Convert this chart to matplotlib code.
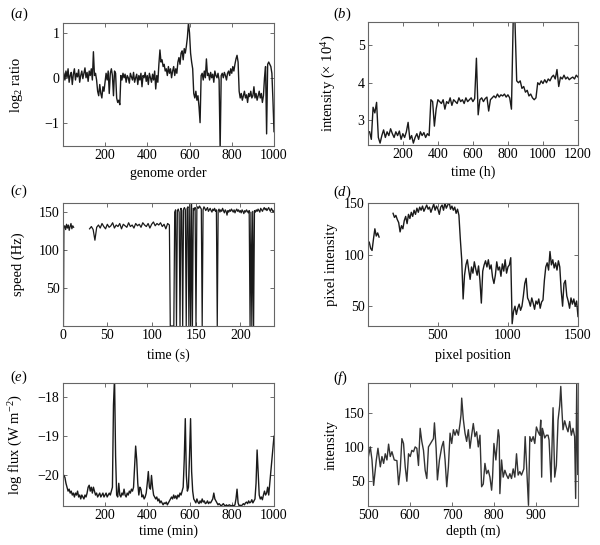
"""Six example time series panels (a)-(f), redrawn from a figure."""

from __future__ import annotations

import matplotlib

matplotlib.use("Agg")
import matplotlib.pyplot as plt
import numpy as np

# (a) genome order vs log2 ratio, sampled every 5
A_STEP = 5
A_RATIO = [
    0.10, -0.05, 0.15, 0.0, 0.2, -0.1, 0.05, 0.12, -0.15, 0.08, 0.2, -0.05, 0.1, 0.02, 0.18, -0.1,
    0.05, 0.15, -0.02, 0.1, 0.22, 0.0, 0.12, -0.08, 0.15, 0.05, 0.2, -0.05, 0.58, 0.05, 0.1, -0.05,
    -0.3, -0.4, -0.15, -0.35, -0.45, -0.2, -0.3, -0.1,
    0.1, -0.05, 0.15, -0.35, 0.1, 0.2, 0.05, -0.4, 0.15, 0.1,
    -0.45, -0.55, -0.5, -0.6,
    0.05, -0.05, 0.1, 0.0, 0.08, -0.1, 0.05, 0.0, -0.12, 0.1, 0.02, -0.05, 0.12, -0.1, 0.0, 0.08,
    -0.15, 0.05, -0.05, 0.1, -0.2, 0.05, 0.0, 0.12, -0.08, 0.05, -0.15, 0.1, 0.0, -0.1, 0.08, -0.05,
    0.15, -0.25, 0.05, -0.1,
    0.3, 0.62, 0.35, 0.4, 0.25, 0.3,
    0.15, 0.2, 0.05, 0.25, 0.1, 0.2, 0.0, 0.15, 0.25, 0.05, 0.2, 0.1,
    0.35, 0.45, 0.3, 0.55, 0.6, 0.4, 0.65, 0.55, 0.7,
    0.9, 1.22, 1.0,
    0.55, 0.35, 0.2,
    -0.35, -0.45, -0.3, -0.5, -0.4, -0.65, -1.0,
    0.05, 0.1, -0.05, 0.15, 0.0, 0.42, 0.05, 0.1, -0.05, 0.12, 0.0, 0.08, -0.1, 0.15, 0.05, 0.0,
    0.1, -0.05,
    -1.6,
    0.05, 0.1, 0.0, 0.12, 0.05, -0.05, 0.1, 0.15, 0.05, 0.2, 0.1, 0.25, 0.15, 0.3, 0.42, 0.5, 0.35,
    -0.3, -0.45, -0.35, -0.5, -0.4, -0.3, -0.45, -0.38, -0.55, -0.35, -0.42, -0.3, -0.45, -0.4,
    -0.2, -0.45, -0.35, -0.5, -0.4, -0.3, -0.45, -0.35, -0.55, -0.4,
    0.0, 0.25, -1.25, 0.3, 0.35, 0.3, 0.25, 0.1, -0.5, -1.2,
]

# (b) time (h) vs intensity (x 10^4), sampled every 10 h
B_STEP = 10
B_INTENSITY = [
    2.7, 2.5, 3.35, 3.2, 3.48,
    2.55, 2.4, 2.6, 2.75, 2.55, 2.7, 2.6, 2.78, 2.65, 2.55, 2.7, 2.6, 2.72, 2.5, 2.65, 2.55, 2.7,
    2.95, 2.5, 2.6, 2.4, 2.55, 2.65, 2.5, 2.7, 2.6, 2.68, 2.55, 2.65, 2.6,
    3.55, 3.5, 2.85, 3.3, 3.55,
    3.5, 3.45, 3.55, 3.3, 3.5, 3.45, 3.6, 3.4, 3.55, 3.5, 3.45, 3.6, 3.5, 3.55, 3.45, 3.6, 3.5,
    3.55, 3.6, 3.5, 3.58, 4.65,
    3.15, 3.55, 3.6, 3.5, 3.58, 3.62, 3.25, 3.55, 3.6, 3.65, 3.6, 3.7, 3.62, 3.68, 3.65, 3.7,
    3.62, 3.68, 3.6,
    3.3, 5.65, 5.65, 4.05,
    4.0, 4.05, 3.85, 3.9, 3.75, 3.8, 3.65, 3.7, 3.6, 3.55, 3.6,
    4.0, 3.95, 4.05, 3.98, 4.08, 4.0, 4.1, 4.05, 4.15, 4.2, 4.1, 4.35, 3.9, 4.15, 4.1, 4.2, 4.1,
    4.15, 4.08, 4.12, 4.15, 4.1, 4.2, 4.15,
]

# (c) time (s) vs speed (Hz); NaN marks the gap with no reading
C_TIME = np.r_[[0.5], np.arange(1, 13), [20], np.arange(30, 121, 2), [121, 125], np.arange(126, 239)]
C_SPEED = [
    0, 130, 132, 127, 134, 129, 133, 126, 131, 135, 128, 132, 130,
    np.nan,
    128, 131, 127, 113, 130, 133, 129, 135, 131, 128, 134, 130, 132, 136, 129, 133, 131, 135, 128,
    134, 132, 130, 136, 131, 133, 129, 135, 132, 134, 130, 136, 133, 131, 135, 129, 134, 137, 132,
    135, 133, 136, 131, 134, 128, 135, 133,
    0, 0,
    150, 153, 0, 152, 154, 150, 0, 155, 152, 0,
    154, 156, 153, 0, 155, 157, 0, 160, 0, 163,
    0, 155, 153, 156, 0, 154, 157, 155, 158, 156,
    154, 0, 153, 157, 155, 152, 154, 156, 151, 153,
    155, 152, 150, 154, 152, 155, 151, 153, 0, 152,
    154, 150, 153, 151, 155, 152, 149, 153, 151, 146,
    152, 150, 153, 151, 154, 152, 150, 153, 149, 152,
    154, 151, 153, 150, 152, 149, 153, 151, 148, 152,
    150, 153, 151, 149, 152, 0, 150, 0, 151, 0,
    152, 150, 153, 151, 154, 152, 150, 155, 153, 151,
    154, 156, 153, 155, 152, 154, 156, 153, 151, 155,
    153, 150, 152,
]

# (d) pixel position vs pixel intensity, sampled every 10; NaN = gap
D_STEP = 10
D_INTENSITY = [
    112, 106, 104, 115, 125, 118, 121, 117,
    np.nan, np.nan, np.nan, np.nan, np.nan, np.nan, np.nan, np.nan, np.nan,
    140, 136, 138, 134, 131, 122, 128, 125,
    133, 137, 130, 139, 135, 141, 137, 143, 139, 145,
    141, 146, 143, 147, 142, 145, 148, 144, 146, 141, 145, 149, 143, 147, 144, 139, 146, 148, 143,
    150, 145, 148, 151, 144, 147,
    143, 146, 140, 144, 138, 115, 95, 57,
    80, 90, 95, 85, 76, 88, 82, 93, 86, 80, 89, 75, 53, 84, 90, 94, 88, 95, 86, 90, 78, 72, 80,
    93, 85, 88, 79, 91, 84, 95, 82, 88, 90, 97,
    33, 45, 50, 42, 48, 52, 46, 50,
    60, 72, 77, 58,
    55, 50, 58, 53, 47, 55, 52, 57, 48, 54, 56,
    75, 88, 92, 85, 103, 90, 95, 87, 92, 85, 94, 88,
    65, 50, 72, 75, 60, 55, 48, 58, 52, 57, 50, 55, 40,
]

# (e) time (min) vs log flux (W m^-2), sampled every 5 min
E_STEP = 5
E_FLUX = [
    -20.0, -20.05, -20.2, -20.3, -20.4, -20.35, -20.45, -20.4, -20.5, -20.45, -20.55, -20.45,
    -20.5, -20.4, -20.55, -20.5, -20.6, -20.5, -20.55, -20.6,
    -20.5, -20.55, -20.45, -20.3, -20.25, -20.4, -20.3, -20.45, -20.3, -20.4,
    -20.5, -20.45, -20.55, -20.5, -20.45, -20.55, -20.5, -20.45, -20.55, -20.5, -20.45, -20.55,
    -20.5, -20.45, -20.5, -20.4,
    -20.3, -18.2, -17.5, -19.5, -20.5,
    -20.55, -20.2, -20.5, -20.55, -20.45, -20.5, -20.35, -20.5, -20.55, -20.45, -20.5, -20.4,
    -20.45, -20.35, -20.4,
    -20.3, -19.8, -19.25, -19.6, -20.2,
    -20.5, -20.3, -20.35, -20.55, -20.5, -20.6, -20.55, -20.45,
    -20.2, -19.9, -20.3, -20.35, -20.0, -20.3, -20.5,
    -20.55, -20.6, -20.55, -20.65, -20.6, -20.7, -20.65, -20.7, -20.75, -20.7, -20.72, -20.68,
    -20.75, -20.7, -20.65, -20.6, -20.55, -20.6, -20.5, -20.58, -20.52, -20.6, -20.5, -20.55,
    -20.45, -20.5, -20.4, -20.3,
    -19.6, -18.55, -20.0, -20.4, -20.3, -19.5, -18.55, -19.9, -20.4,
    -20.6, -20.65, -20.7, -20.6, -20.68, -20.72, -20.65, -20.7, -20.6, -20.68, -20.65, -20.72,
    -20.7, -20.65, -20.72, -20.68, -20.7, -20.65,
    -20.6, -20.45, -20.6, -20.65,
    -20.7, -20.75, -20.72, -20.75, -20.78, -20.75, -20.72, -20.76, -20.78, -20.75, -20.78,
    -20.76, -20.75, -20.78, -20.77, -20.76, -20.78, -20.75,
    -20.6, -20.35, -20.7,
    -20.78, -20.76, -20.78, -20.75, -20.72, -20.75, -20.7, -20.68, -20.72, -20.65, -20.7,
    -20.68, -20.62, -20.7, -20.65, -20.6,
    -20.2, -19.35, -19.9, -20.5,
    -20.6, -20.55, -20.62, -20.5, -20.4, -20.5, -20.45, -20.3,
    -20.5, -20.2, -19.9, -19.6, -19.3, -19.0,
]

# (f) depth (m) vs intensity
F_DEPTH = [
    500.0, 505.5, 509.5, 513.4, 519.8, 523.7, 529.3, 533.2, 537.2, 541.1, 545.1, 549.0, 553.0,
    557.0, 562.5, 568.8, 572.8, 576.7, 580.7, 584.6, 588.6, 592.5, 596.5, 600.5, 604.4, 608.4,
    612.3, 616.3, 620.2, 624.2, 628.1, 632.1, 636.1, 640.0, 644.0, 651.9, 655.8, 658.2, 662.2,
    665.3, 670.1, 675.6, 679.6, 683.5, 687.5, 691.4, 695.4, 699.3, 703.3, 707.2, 711.2, 715.2,
    719.1, 721.5, 723.1, 727.0, 731.0, 734.9, 738.9, 742.8, 746.8, 750.7, 754.7, 758.7, 762.6,
    766.6, 770.5, 774.5, 778.4, 782.4, 786.3, 790.3, 794.3, 796.6, 799.8, 804.5, 810.1, 812.4,
    814.0, 818.0, 821.9, 825.9, 829.8, 833.8, 837.8, 841.7, 845.7, 849.6, 853.6, 857.5, 861.5,
    865.4, 871.0, 874.2, 882.1, 885.3, 889.2, 893.2, 897.1, 901.0, 905.0, 909.0, 911.3, 913.5,
    915.3, 920.8, 924.8, 928.7, 931.1, 935.8, 940.6, 944.5, 948.5, 952.5, 956.4, 959.0, 962.0,
    964.3, 968.3, 972.3, 976.2, 980.2, 984.1, 988.1, 992.0, 994.4, 997.0, 999.5,
]
F_INTENSITY = [
    83, 100, 81, 44, 81, 98, 71, 86, 76, 90, 81, 104, 86,
    93, 81, 80, 45, 66, 112, 105, 71, 50, 90, 86, 95, 93,
    100, 98, 73, 127, 108, 95, 66, 54, 100, 108, 112, 135, 98,
    52, 81, 100, 108, 81, 42, 71, 120, 105, 125, 117, 125, 117,
    134, 147, 171, 140, 120, 108, 125, 98, 117, 134, 115, 122, 100,
    117, 42, 46, 76, 61, 66, 56, 37, 56, 105, 81, 125, 115,
    32, 81, 56, 66, 59, 54, 61, 54, 68, 56, 90, 59, 64,
    59, 68, 115, 15, 115, 108, 115, 105, 129, 122, 117, 139, 56,
    127, 113, 117, 117, 110, 49, 157, 56, 73, 139, 160, 188, 150,
    125, 138, 129, 122, 137, 117, 127, 115, 25, 193, 60,
]

LINE_COLOR = "#1a1a1a"
TICK_SIZE = 10
XLABEL_SIZE = 10
YLABEL_SIZE = 10.5


def style_axes(ax, xlim, ylim, xticks, yticks, xlabel, ylabel, xlab_y, ylab_x):
    ax.set_xlim(*xlim)
    ax.set_ylim(*ylim)
    ax.set_xticks(xticks)
    ax.set_yticks(yticks)
    ax.set_xlabel(xlabel, fontsize=XLABEL_SIZE)
    ax.set_ylabel(ylabel, fontsize=YLABEL_SIZE)
    ax.xaxis.set_label_coords(0.5, xlab_y)
    ax.yaxis.set_label_coords(ylab_x, 0.5)
    ax.tick_params(direction="in", top=True, right=True, length=3, width=0.6,
                   color="#555555", labelsize=TICK_SIZE, pad=2.5)
    for spine in ax.spines.values():
        spine.set_color("#666666")
        spine.set_linewidth(0.8)


def main() -> None:
    plt.rcParams["font.family"] = ["Liberation Serif", "DejaVu Serif"]
    plt.rcParams["mathtext.fontset"] = "custom"
    plt.rcParams["mathtext.rm"] = "Liberation Serif"
    plt.rcParams["mathtext.it"] = "Liberation Serif:italic"

    fig = plt.figure(figsize=(6.0, 5.45), dpi=100)
    W, H = 600, 545

    def add_axes(x0, y0, x1, y1):
        return fig.add_axes([x0 / W, 1 - y1 / H, (x1 - x0) / W, (y1 - y0) / H])

    # (a)
    ax = add_axes(63, 23, 274, 146)
    a_x = np.arange(1, len(A_RATIO) + 1) * A_STEP
    ax.plot(a_x, A_RATIO, color=LINE_COLOR, lw=1.0)
    style_axes(ax, (1, 1000), (-1.52, 1.22), [200, 400, 600, 800, 1000], [-1, 0, 1],
               "genome order", r"log$_2$ ratio", -0.17, -0.18)

    # (b)
    ax = add_axes(368, 22, 578, 145)
    b_x = np.arange(1, len(B_INTENSITY) + 1) * B_STEP
    ax.plot(b_x, B_INTENSITY, color=LINE_COLOR, lw=1.0)
    style_axes(ax, (1, 1200), (2.35, 5.61), [200, 400, 600, 800, 1000, 1200], [3, 4, 5],
               "time (h)", r"intensity (× 10$^4$)", -0.17, -0.145)

    # (c)
    ax = add_axes(63, 203, 274, 326)
    ax.plot(C_TIME, C_SPEED, color=LINE_COLOR, lw=0.9)
    style_axes(ax, (0, 238), (0, 162), [0, 50, 100, 150, 200], [50, 100, 150],
               "time (s)", "speed (Hz)", -0.185, -0.18)

    # (d)
    ax = add_axes(368, 203, 578, 326)
    d_x = np.arange(1, len(D_INTENSITY) + 1) * D_STEP
    ax.plot(d_x, D_INTENSITY, color=LINE_COLOR, lw=1.0)
    style_axes(ax, (1, 1500), (30.8, 150), [500, 1000, 1500], [50, 100, 150],
               "pixel position", "pixel intensity", -0.185, -0.145)

    # (e)
    ax = add_axes(63, 383, 274, 506)
    e_x = np.arange(1, len(E_FLUX) + 1) * E_STEP
    ax.plot(e_x, E_FLUX, color=LINE_COLOR, lw=1.0)
    style_axes(ax, (1, 1000), (-20.78, -17.64), [200, 400, 600, 800, 1000], [-20, -19, -18],
               "time (min)", r"log flux (W m$^{-2}$)", -0.15, -0.18)

    # (f)
    ax = add_axes(368, 383, 578, 506)
    ax.plot(F_DEPTH, F_INTENSITY, color="#333333", lw=1.0)
    style_axes(ax, (500, 1000), (14, 193), [500, 600, 700, 800, 900], [50, 100, 150],
               "depth (m)", "intensity", -0.15, -0.145)

    # panel letters
    for letter, (px, py) in zip("abcdef", [(10, 14), (333, 14), (10, 191), (333, 192),
                                          (10, 377), (333, 378)]):
        fig.text(px / W, 1 - py / H, rf"($\mathit{{{letter}}}$)", fontsize=10.5,
                 ha="left", va="center")

    fig.savefig("out.png", dpi=100)
    plt.close(fig)


if __name__ == "__main__":
    main()
